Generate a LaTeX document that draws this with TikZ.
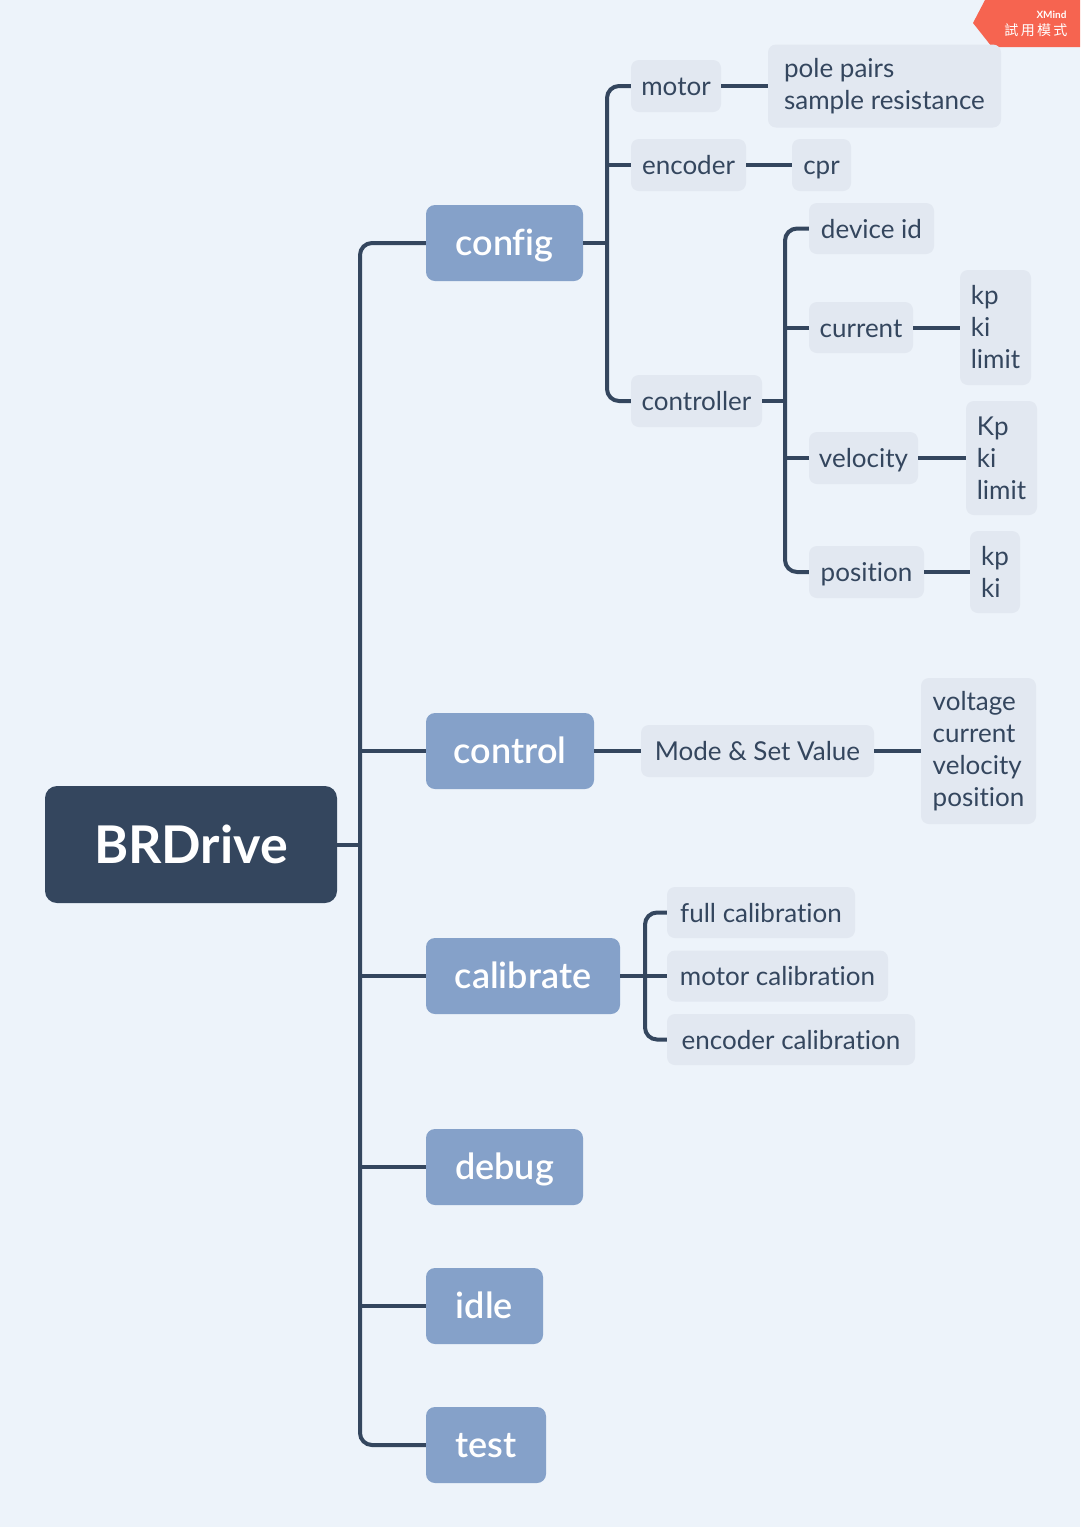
\documentclass[tikz,border=0pt]{standalone}
\usepackage{fontspec}
\setmainfont[Ligatures=NoCommon]{Lato}
\newfontfamily\medfont[Ligatures=NoCommon]{Lato Semibold}
\newfontfamily\cjkfont{Noto Sans CJK TC}
\usepackage{tikz}
\usetikzlibrary{positioning}

\definecolor{bgcol}{RGB}{237,243,250}
\definecolor{darkcol}{RGB}{52,70,94}
\definecolor{mainfill}{RGB}{133,161,201}
\definecolor{subfill}{RGB}{226,232,241}
\definecolor{badgecol}{RGB}{246,100,80}

\tikzset{
    rootbox/.style={fill=darkcol, text=white, rounded corners=12pt, inner sep=0pt,
        font=\fontsize{52}{60}\selectfont\bfseries},
    mainbox/.style={fill=mainfill, text=white, rounded corners=9pt, inner sep=0pt,
        minimum height=76pt, text height=28pt, text depth=4pt, font=\fontsize{36}{42}\medfont},
    boxbase/.style={fill=subfill, text=darkcol, rounded corners=8pt, inner sep=0pt,
        font=\fontsize{26}{32}\selectfont},
    subbox/.style={boxbase, text height=22pt, text depth=3pt},
    listbox/.style={boxbase, align=left},
    link/.style={draw=darkcol, line width=4pt, rounded corners=12pt},
}

\begin{document}
\begin{tikzpicture}[x=1pt, y=-1pt]
            \fill[bgcol] (0,0) rectangle (1080,1527);
            \useasboundingbox (0,0) rectangle (1080,1527);

            \fill[badgecol] (985,0) -- (1080,0) -- (1080,47) -- (992,47) -- (973,23) -- cycle;
            \node[text=white, anchor=east, font=\fontsize{10}{12}\selectfont\bfseries] (badgetop) at (1070,15) {XMind};
            \node[text=white, anchor=east, font=\fontsize{14}{16}\cjkfont] (badgebot) at (1071,30) {試\,用\,模\,式};

            \node[rootbox, minimum width=292pt, minimum height=117pt] (root) at (191,844.5) {BRDrive};

            \node[mainbox, minimum width=157pt] (config) at (504.5,243) {config};
            \node[mainbox, minimum width=168pt] (control) at (510,751) {control};
            \node[mainbox, minimum width=194pt] (calibrate) at (523,976) {calibrate};
            \node[mainbox, minimum width=157pt] (debug) at (504.5,1167) {debug};
            \node[mainbox, minimum width=117pt] (idle) at (484.5,1306) {idle};
            \node[mainbox, minimum width=120pt] (test) at (486,1445) {test};

            \node[subbox, minimum width=90pt, minimum height=52pt] (motor) at (676,86) {motor};
            \node[listbox, minimum width=233pt, minimum height=83pt] (motorpar) at (884.5,86) {pole pairs\\sample resistance};
            \node[subbox, minimum width=115pt, minimum height=52pt] (encoder) at (688.5,165) {encoder};
            \node[subbox, minimum width=59pt, minimum height=52pt] (cpr) at (821.5,165) {cpr};
            \node[subbox, minimum width=131pt, minimum height=52pt] (controller) at (696.5,401) {controller};

            \node[subbox, minimum width=125pt, minimum height=51pt] (deviceid) at (871.5,228.5) {device id};
            \node[subbox, minimum width=104pt, minimum height=51pt] (current) at (861,327.5) {current};
            \node[listbox, minimum width=71pt, minimum height=115pt] (currentpar) at (995.5,327.5) {kp\\ki\\limit};
            \node[subbox, minimum width=109pt, minimum height=52pt] (velocity) at (863.5,458) {velocity};
            \node[listbox, minimum width=71pt, minimum height=114pt] (velocitypar) at (1001.5,458) {Kp\\ki\\limit};
            \node[subbox, minimum width=115pt, minimum height=52pt] (position) at (866.5,572) {position};
            \node[listbox, minimum width=50pt, minimum height=82pt] (positionpar) at (995,572) {kp\\ki};

            \node[subbox, minimum width=233pt, minimum height=52pt] (mode) at (757.5,751) {Mode \& Set Value};
            \node[listbox, minimum width=115pt, minimum height=146pt] (modes) at (978.5,751) {voltage\\current\\velocity\\position};

            \node[subbox, minimum width=188pt, minimum height=51pt] (fullcal) at (761,912.5) {full calibration};
            \node[subbox, minimum width=221pt, minimum height=51pt] (motorcal) at (777.5,976) {motor calibration};
            \node[subbox, minimum width=248pt, minimum height=51pt] (enccal) at (791,1039.5) {encoder calibration};

            \coordinate (trunk) at (360,844.5);
            \draw[link] (root.east) -- (trunk);
            \draw[link] (config.west) -- (config.west -| trunk) -- (test.west -| trunk) -- (test.west);
            \foreach \n in {control,calibrate,debug,idle} {
                    \draw[link] (\n.west) -- (\n.west -| trunk);
                }

            \coordinate (cfgbus) at (607,243);
            \draw[link] (config.east) -- (cfgbus);
            \draw[link] (motor.west) -- (motor.west -| cfgbus) -- (controller.west -| cfgbus) -- (controller.west);
            \draw[link] (encoder.west) -- (encoder.west -| cfgbus);
            \draw[link] (motor.east) -- (motorpar.west);
            \draw[link] (encoder.east) -- (cpr.west);

            \coordinate (ctlbus) at (785,401);
            \draw[link] (controller.east) -- (ctlbus);
            \draw[link] (deviceid.west) -- (deviceid.west -| ctlbus) -- (position.west -| ctlbus) -- (position.west);
            \draw[link] (current.west) -- (current.west -| ctlbus);
            \draw[link] (velocity.west) -- (velocity.west -| ctlbus);
            \draw[link] (current.east) -- (currentpar.west);
            \draw[link] (velocity.east) -- (velocitypar.west);
            \draw[link] (position.east) -- (positionpar.west);

            \draw[link] (control.east) -- (mode.west);
            \draw[link] (mode.east) -- (modes.west);

            \coordinate (calbus) at (645,976);
            \draw[link] (calibrate.east) -- (motorcal.west);
            \draw[link] (fullcal.west) -- (fullcal.west -| calbus) -- (enccal.west -| calbus) -- (enccal.west);
        \end{tikzpicture}
\end{document}
